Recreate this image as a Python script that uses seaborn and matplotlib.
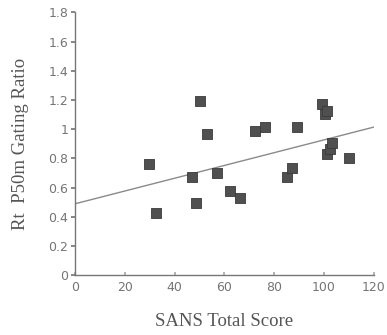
import matplotlib
matplotlib.use("Agg")
import matplotlib.pyplot as plt
import seaborn as sns
import pandas as pd

sans_score = [29.6, 32.5, 46.8, 48.7, 50.0, 52.9, 57.0, 62.1, 66.1, 72.1, 76.1,
              85.2, 87.1, 89.2, 99.2, 100.3, 101.3, 101.1, 102.2, 103.2, 110.2]
gating_ratio = [0.762, 0.429, 0.675, 0.493, 1.196, 0.968, 0.698, 0.580, 0.532, 0.986, 1.014,
                0.671, 0.735, 1.018, 1.173, 1.105, 1.127, 0.831, 0.863, 0.904, 0.803]
fit_x = [0, 120]
fit_y = [0.49, 1.015]
x_ticks = [0, 20, 40, 60, 80, 100, 120]
y_ticks = [0, 0.2, 0.4, 0.6, 0.8, 1.0, 1.2, 1.4, 1.6, 1.8]
y_tick_labels = ["0", "0.2", "0.4", "0.6", "0.8", "1", "1.2", "1.4", "1.6", "1.8"]

df = pd.DataFrame({"x": sans_score, "y": gating_ratio})
fit = pd.DataFrame({"x": fit_x, "y": fit_y})

sns.set_theme(style="ticks")
plt.rcParams['font.family'] = ['DejaVu Sans']

fig = plt.figure(figsize=(3.87, 3.35), dpi=100)
ax = fig.add_axes([0.194, 0.178, 0.772, 0.785])

sns.lineplot(data=fit, x="x", y="y", ax=ax, color="#8a8a8a", linewidth=1.0)
sns.scatterplot(data=df, x="x", y="y", ax=ax, marker="s", s=42, color="#505050",
                edgecolor="#3a3a3a", linewidth=0.6, zorder=3)

ax.set_xlim(0, 120)
ax.set_ylim(0, 1.8)
ax.set_xticks(x_ticks)
ax.set_yticks(y_ticks)
ax.set_yticklabels(y_tick_labels)
for s in ["top", "right"]:
    ax.spines[s].set_visible(False)
for s in ["left", "bottom"]:
    ax.spines[s].set_color("#777777")
    ax.spines[s].set_linewidth(1.0)
ax.tick_params(axis="x", direction="in", length=2, color="#aaaaaa", labelsize=9, labelcolor="#757575", pad=4)
ax.tick_params(axis="y", direction="out", length=3, color="#777777", labelsize=9, labelcolor="#757575", pad=2)

ax.set_xlabel("SANS Total Score", family=["Liberation Serif"], fontsize=13.5, color="#555555", labelpad=14)
ax.set_ylabel("Rt  P50m Gating Ratio", family=["Liberation Serif"], fontsize=13.5, color="#555555", labelpad=14)

fig.savefig("out.png", dpi=100)
